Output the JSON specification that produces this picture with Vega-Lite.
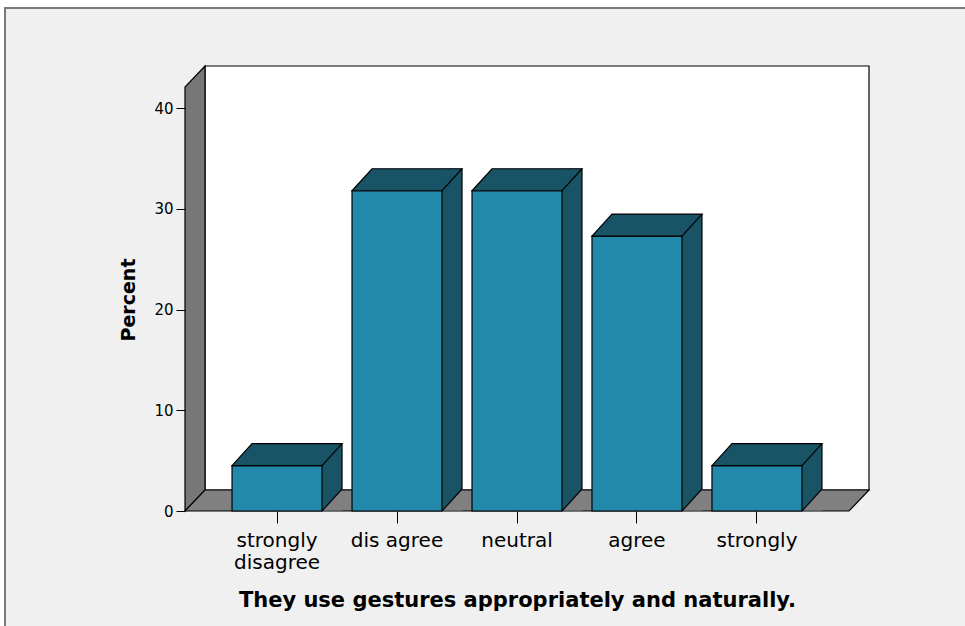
{
  "$schema": "https://vega.github.io/schema/vega-lite/v6.json",
  "autosize": {"type": "none"},
  "width": 664,
  "height": 423,
  "padding": {"left": 185, "top": 88, "right": 116, "bottom": 115},
  "background": "white",
  "config": {
    "view": {"stroke": null},
    "font": "DejaVu Sans",
    "axis": {"labelColor": "#000", "titleColor": "#000", "tickColor": "#000", "domain": false, "grid": false}
  },
  "data": {
    "values": [
      {"response": "strongly disagree", "percent": 4.5},
      {"response": "dis agree", "percent": 31.8},
      {"response": "neutral", "percent": 31.8},
      {"response": "agree", "percent": 27.3},
      {"response": "strongly", "percent": 4.5}
    ]
  },
  "layer": [
    {
      "description": "outer frame",
      "data": {"values": [{"base": 0}]},
      "mark": {"type": "point", "shape": "M-512,200L-512,-503L600,-503L600,200Z", "size": 4, "filled": true, "fill": "#f0f0f0", "stroke": "#7a7a7a", "strokeWidth": 2, "opacity": 1},
      "encoding": {"y": {"field": "base", "type": "quantitative"}}
    },
    {
      "description": "back wall",
      "data": {"values": [{"base": 0}]},
      "mark": {"type": "point", "shape": "M-312,-21L352,-21L352,-445L-312,-445Z", "size": 4, "filled": true, "fill": "white", "stroke": "#000", "strokeWidth": 1.2, "opacity": 1},
      "encoding": {"y": {"field": "base", "type": "quantitative"}}
    },
    {
      "description": "left wall",
      "data": {"values": [{"base": 0}]},
      "mark": {"type": "point", "shape": "M-332,0L-332,-424L-312,-445L-312,-21Z", "size": 4, "filled": true, "fill": "#777777", "stroke": "#000", "strokeWidth": 1.2, "opacity": 1},
      "encoding": {"y": {"field": "base", "type": "quantitative"}}
    },
    {
      "description": "floor",
      "data": {"values": [{"base": 0}]},
      "mark": {"type": "point", "shape": "M-332,0L332,0L352,-21L-312,-21Z", "size": 4, "filled": true, "fill": "#808080", "stroke": "#000", "strokeWidth": 1.2, "opacity": 1},
      "encoding": {"y": {"field": "base", "type": "quantitative"}}
    },
    {
      "description": "bar depth block",
      "mark": {"type": "bar", "width": 20, "xOffset": 55, "yOffset": -22, "y2Offset": -0.6, "fill": "#195366"},
      "encoding": {
        "x": {"field": "response", "type": "nominal", "sort": null},
        "y": {"field": "percent", "type": "quantitative"},
        "y2": {"datum": 0}
      }
    },
    {
      "description": "floor under depth diagonal",
      "mark": {"type": "point", "shape": "M45,-0.6L65,-22.6L65,-0.6Z", "size": 4, "filled": true, "fill": "#808080", "strokeWidth": 0, "opacity": 1},
      "encoding": {
        "x": {"field": "response", "type": "nominal", "sort": null},
        "y": {"datum": 0}
      }
    },
    {
      "description": "bar front",
      "mark": {"type": "bar", "fill": "#2389aa", "stroke": "#000", "strokeWidth": 1.2},
      "encoding": {
        "x": {
          "field": "response", "type": "nominal", "sort": null,
          "scale": {"type": "band", "paddingInner": 0.25, "paddingOuter": 0.392},
          "axis": {
            "zindex": 2,
            "title": "They use gestures appropriately and naturally.",
            "labelAngle": 0,
            "labelAlign": "center",
            "labelFontSize": 20,
            "labelLineHeight": 22,
            "labelPadding": 17,
            "tickSize": 12,
            "labelExpr": "datum.value == 'strongly disagree' ? ['strongly', 'disagree'] : datum.label",
            "titleFontSize": 21,
            "titleFontWeight": "bold",
            "titlePadding": 17
          }
        },
        "y": {
          "field": "percent", "type": "quantitative",
          "scale": {"domain": [0, 42], "nice": false},
          "axis": {
            "zindex": 2,
            "title": "Percent",
            "values": [0, 10, 20, 30, 40],
            "labelFontSize": 15,
            "labelPadding": 3,
            "tickSize": 9,
            "titleFontSize": 19,
            "titleFontWeight": "bold",
            "titlePadding": 15
          }
        },
        "y2": {"datum": 0}
      }
    },
    {
      "description": "bar top",
      "mark": {"type": "point", "shape": "M-45,0L45,0L65,-22L-25,-22Z", "size": 4, "filled": true, "fill": "#195366", "stroke": "#000", "strokeWidth": 1.2, "opacity": 1},
      "encoding": {
        "x": {"field": "response", "type": "nominal", "sort": null},
        "y": {"field": "percent", "type": "quantitative"}
      }
    },
    {
      "description": "bar back edge",
      "mark": {"type": "rule", "xOffset": 65, "yOffset": -22, "y2Offset": -22, "stroke": "#000", "strokeWidth": 1.2},
      "encoding": {
        "x": {"field": "response", "type": "nominal", "sort": null},
        "y": {"field": "percent", "type": "quantitative"},
        "y2": {"datum": 0}
      }
    },
    {
      "description": "bar bottom diagonal",
      "mark": {"type": "point", "shape": "M45,0L65,-22", "size": 4, "filled": false, "stroke": "#000", "strokeWidth": 1.2, "opacity": 1},
      "encoding": {
        "x": {"field": "response", "type": "nominal", "sort": null},
        "y": {"datum": 0}
      }
    }
  ]
}
